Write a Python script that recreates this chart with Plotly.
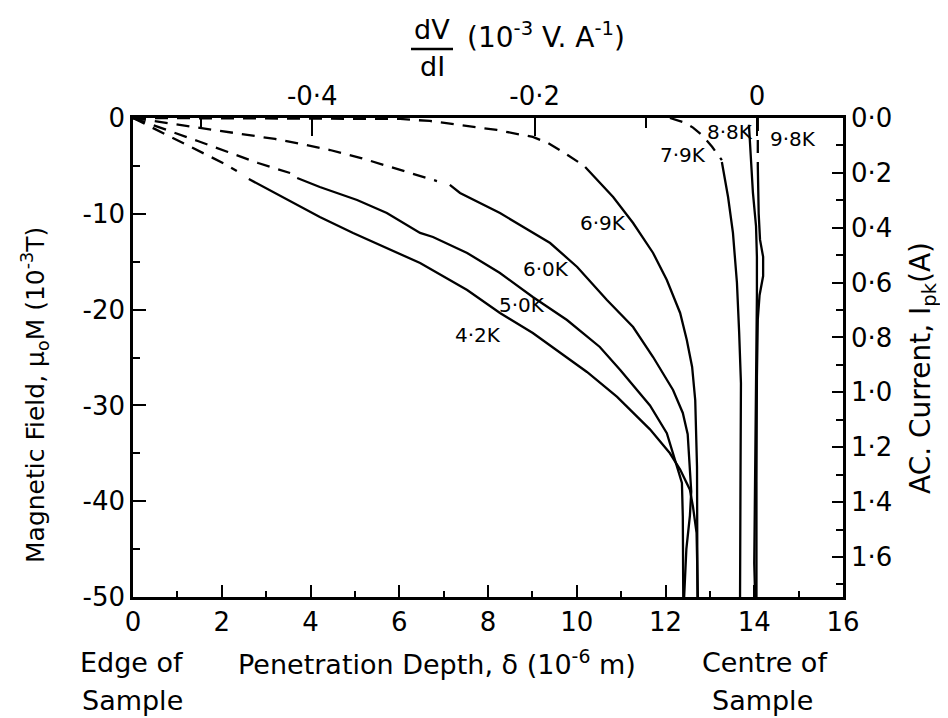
import plotly.graph_objects as go

# ---------------- data ----------------
# Penetration depth (10^-6 m) vs magnetic field mu0*M (10^-3 T)
d42_dash = [0, 0.86, 1.44, 2.07, 2.34]
f42_dash = [0, -1.98, -3.34, -4.80, -5.53]
d42_solid = [2.61, 3.61, 4.21, 4.96, 5.72, 6.47, 7.53, 8.27, 9.01, 9.78, 10.23, 10.91,
             11.65, 12.10, 12.33, 12.55, 12.62, 12.70, 12.73]
f42_solid = [-6.37, -8.87, -10.33, -12.00, -13.57, -15.14, -17.95, -20.35, -22.44, -24.95,
             -26.51, -29.12, -32.5, -35.0, -36.7, -38.8, -40.6, -43.3, -50]

d50_dash = [0, 0.86, 1.46, 2.14, 2.82, 3.54]
f50_dash = [0, -1.46, -2.40, -3.55, -4.70, -5.74]
d50_solid = [3.70, 4.21, 5.05, 5.72, 6.47, 6.76, 7.53, 8.27, 9.01, 9.78, 10.52, 10.98,
             11.65, 12.03, 12.28, 12.37, 12.39, 12.40]
f50_solid = [-6.26, -7.20, -8.56, -9.92, -12.00, -12.42, -14.09, -16.18, -18.68, -21.09,
             -23.90, -26.30, -30.0, -32.9, -36.7, -38.1, -41.6, -50]

d60_dash = [0, 0.95, 1.80, 2.52, 3.20, 3.79, 4.44, 5.14, 5.81, 6.36, 6.85]
f60_dash = [0, -0.63, -1.25, -1.67, -2.19, -2.71, -3.34, -4.18, -5.11, -5.85, -6.58]
d60_solid = [7.14, 7.37, 8.27, 9.40, 10.01, 10.68, 11.27, 11.72, 12.17, 12.39, 12.50,
             12.55, 12.58, 12.55, 12.47, 12.42]
f60_solid = [-6.99, -7.83, -9.92, -13.05, -15.55, -19.00, -21.82, -24.95, -28.39, -30.79,
             -33.0, -36.4, -39.0, -41.5, -45.0, -50]

d69_dash = [0, 3.76, 6.02, 6.69, 7.37, 8.20, 9.01, 9.35, 9.69, 10.07]
f69_dash = [0, -0.05, -0.10, -0.31, -0.73, -1.25, -1.98, -2.61, -3.55, -4.70]
d69_solid = [10.19, 10.82, 11.27, 11.72, 12.03, 12.33, 12.48, 12.60, 12.67, 12.71, 12.72]
f69_solid = [-5.11, -8.25, -10.96, -14.09, -16.91, -20.35, -23.17, -25.99, -29.44, -36.43, -50]

d79_dash = [12.10, 12.44, 12.62, 12.85, 13.05, 13.27]
f79_dash = [0, -0.5, -1.0, -1.9, -3.0, -4.4]
d79_solid = [13.27, 13.41, 13.52, 13.61, 13.66, 13.70, 13.69, 13.68]
f79_solid = [-4.59, -8.25, -12.0, -17.2, -22.4, -27.7, -37.8, -50]

d88_solid = [13.88, 13.97, 14.04, 14.06, 14.06, 14.05, 14.04, 14.02, 14.00, 14.02]
f88_solid = [-0.7, -7.8, -11.3, -14.5, -18.5, -22.4, -27.7, -37.8, -46.5, -50]

d98_dash = [14.08, 14.08]
f98_dash = [0, -5.0]
d98_solid = [14.08, 14.10, 14.13, 14.20, 14.20, 14.12, 14.08, 14.06, 14.05, 14.05]
f98_solid = [-5.0, -10.0, -12.7, -14.5, -16.5, -18.5, -21.0, -27.0, -38.0, -50]

curve_names = ["4·2K", "5·0K", "6·0K", "6·9K", "7·9K", "8·8K", "9·8K"]

# axis ticks
depth_ticks = [0, 2, 4, 6, 8, 10, 12, 14, 16]
field_ticks = [0, -10, -20, -30, -40, -50]
field_ticktext = ["0", "-10", "-20", "-30", "-40", "-50"]
dvdi_ticks = [-0.4, -0.2, 0]
dvdi_ticktext = ["-0·4", "-0·2", "0"]
current_ticks = [0, 0.2, 0.4, 0.6, 0.8, 1.0, 1.2, 1.4, 1.6]
current_ticktext = ["0·0", "0·2", "0·4", "0·6", "0·8", "1·0", "1·2", "1·4", "1·6"]

# ---------------- figure ----------------
FONT = "DejaVu Sans, Liberation Sans, Arial, sans-serif"
OFF = 8                      # default page body margin
W, H = 948 - OFF, 718 - OFF
L, R, T, B = 133, 843, 118, 597   # plot-area edges in screen pixels


def px(x):
    return (x - L) / (R - L)


def py(y):
    return (B - y) / (B - T)


fig = go.Figure()
DASH = "13px,9px"


def add(x, y, dash="solid"):
    fig.add_trace(go.Scatter(x=x, y=y, mode="lines",
                             line=dict(color="black", width=2.3, dash=dash),
                             showlegend=False, hoverinfo="skip"))


series = [
    (d42_dash, f42_dash, d42_solid, f42_solid),
    (d50_dash, f50_dash, d50_solid, f50_solid),
    (d60_dash, f60_dash, d60_solid, f60_solid),
    (d69_dash, f69_dash, d69_solid, f69_solid),
    (d79_dash, f79_dash, d79_solid, f79_solid),
    (None, None, d88_solid, f88_solid),
    (d98_dash, f98_dash, d98_solid, f98_solid),
]
for dd, fd, ds, fs in series:
    if dd is not None:
        add(dd, fd, DASH)
    add(ds, fs)

# invisible trace to bind the secondary (top / right) axes
fig.add_trace(go.Scatter(x=[0], y=[0], xaxis="x2", yaxis="y2", mode="markers",
                         marker=dict(opacity=0), showlegend=False, hoverinfo="skip"))

label_pos = [(7.77, -22.7), (8.77, -19.5), (9.31, -15.8), (10.59, -11.0),
             (12.39, -3.9), (13.45, -1.5), (14.87, -2.2)]
ann = []
for name, (lx, ly) in zip(curve_names, label_pos):
    ann.append(dict(x=lx, y=ly, xref="x", yref="y", text=name, showarrow=False,
                    xanchor="center", yanchor="middle",
                    font=dict(family=FONT, size=20, color="black")))


def title(x, y, text, angle=0, size=27):
    return dict(x=px(x), y=py(y), xref="paper", yref="paper", text=text,
                showarrow=False, xanchor="center", yanchor="middle",
                textangle=angle, font=dict(family=FONT, size=size, color="black"))


ann += [
    title(35, 395, "Magnetic Field, μ<sub>o</sub>M (10<sup>-3</sup>T)", -90, 25),
    title(922, 368, "AC. Current, I<sub>pk</sub>(A)", -90, 28),
    title(437, 662, "Penetration Depth, δ (10<sup>-6</sup> m)"),
    title(132, 662, "Edge of"),
    title(132, 700, "Sample"),
    title(765, 662, "Centre of"),
    title(762, 700, "Sample"),
    title(432, 30, "dV"),
    title(432, 67, "dI"),
    title(546, 35, "(10<sup>-3</sup> V. A<sup>-1</sup>)", 0, 28),
]

shapes = [dict(type="line", xref="paper", yref="paper", x0=px(411), x1=px(453),
               y0=py(49), y1=py(49), line=dict(color="black", width=2.5))]

axis_common = dict(showline=True, linecolor="black", linewidth=2.5, ticks="inside",
                   tickcolor="black", tickwidth=2, showgrid=False, zeroline=False,
                   tickfont=dict(family=FONT, size=26, color="black"))

fig.update_layout(
    width=W, height=H,
    margin=dict(l=L - OFF, r=W - (R - OFF), t=T - OFF, b=H - (B - OFF), pad=0),
    paper_bgcolor="white", plot_bgcolor="white",
    showlegend=False,
    xaxis=dict(range=[0, 16], tickvals=depth_ticks, ticklen=12,
               minor=dict(tickvals=[1, 3, 5, 7, 9, 11, 13, 15], ticklen=6, tickwidth=2,
                          ticks="inside", tickcolor="black"),
               **axis_common),
    yaxis=dict(range=[-50, 0], tickvals=field_ticks, ticktext=field_ticktext, ticklen=13,
               minor=dict(tickvals=[-5, -15, -25, -35, -45], ticklen=7, tickwidth=2,
                          ticks="inside", tickcolor="black"),
               **axis_common),
    xaxis2=dict(overlaying="x", side="top", anchor="y", range=[-0.5612, 0.0773],
                tickvals=dvdi_ticks, ticktext=dvdi_ticktext, ticklen=18,
                minor=dict(tickvals=[-0.5, -0.1], ticklen=10, tickwidth=2,
                           ticks="inside", tickcolor="black"),
                **axis_common),
    yaxis2=dict(overlaying="y", side="right", anchor="x", range=[1.746, 0],
                tickvals=current_ticks, ticktext=current_ticktext, ticklen=11,
                minor=dict(tickvals=[0.1, 0.3, 0.5, 0.7, 0.9, 1.1, 1.3, 1.5, 1.7],
                           ticklen=7, tickwidth=2, ticks="inside", tickcolor="black"),
                **axis_common),
    annotations=ann,
    shapes=shapes,
)

fig.write_html("out.html")
